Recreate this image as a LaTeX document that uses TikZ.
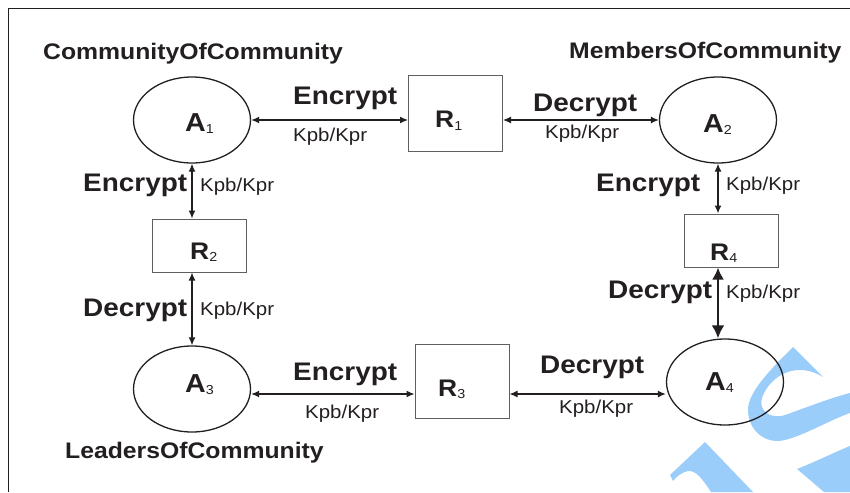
\documentclass[tikz,border=0pt]{standalone}
\usepackage{fontspec}
\setmainfont{Liberation Sans}[FakeStretch=1.1]
\usetikzlibrary{arrows.meta,shapes.geometric}

\definecolor{inkblack}{RGB}{35,31,32}
\definecolor{boxgray}{RGB}{95,95,95}
\definecolor{wmblue}{RGB}{155,205,250}

% subscripted names of the parties and relays
\newcommand{\agentname}[2]{{\fontsize{#1}{#1}\selectfont\bfseries #2}}
\newcommand{\subnum}[1]{\raisebox{-2pt}{\fontsize{13}{13}\selectfont #1}}

\tikzset{
  agent/.style={ellipse, draw=inkblack, line width=1.3pt, minimum width=117pt, minimum height=86pt, inner sep=0pt},
  relay/.style={rectangle, draw=boxgray, line width=1pt, minimum width=94pt, inner sep=0pt},
  keyarrow/.style={{Latex[length=8pt,width=7pt]}-{Latex[length=8pt,width=7pt]}, line width=1.3pt, draw=inkblack},
  heavyarrow/.style={{Latex[length=12pt,width=12pt]}-{Latex[length=13pt,width=13pt]}, line width=2.5pt, draw=inkblack},
  oplbl/.style={font=\fontsize{25.4}{26}\selectfont\bfseries, anchor=base west, inner sep=0pt, text=inkblack},
  keylbl/.style={font=\fontsize{18.6}{19}\selectfont, anchor=base west, inner sep=0pt, text=inkblack},
  grouplbl/.style={font=\fontsize{22.5}{23}\selectfont\bfseries, anchor=base west, inner sep=0pt, text=inkblack},
  namelbl/.style={anchor=base west, inner sep=0pt, text=inkblack}
}

\begin{document}
\begin{tikzpicture}[x=1pt,y=-1pt]
  \useasboundingbox (0,0) rectangle (850,492);

  % watermark strokes behind everything
  \fill[wmblue] (793,347) .. controls (770,370) and (748,392) .. (748,410)
    .. controls (748,430) and (765,445) .. (785,440)
    .. controls (805,435) and (830,420) .. (850,413) -- (850,393)
    .. controls (830,398) and (805,408) .. (785,415)
    .. controls (770,420) and (758,410) .. (762,398)
    .. controls (767,383) and (782,370) .. (800,370)
    .. controls (810,370) and (818,374) .. (823,377) -- cycle;
  \fill[wmblue] (670,475) -- (705,442) -- (753,492) -- (711,492)
    .. controls (702,478) and (695,470) .. (688,471)
    .. controls (682,472) and (676,477) .. (673,481) -- cycle;
  \fill[wmblue] (797,469) .. controls (815,462) and (835,452) .. (850,446)
    -- (850,492) -- (824,492) -- cycle;

  % frame
  \draw[inkblack, line width=1pt] (8,492) -- (8,9) -- (850,9);

  % parties
  \node[agent] (A1) at (192,120) {};
  \node[agent] (A2) at (718,120) {};
  \node[agent] (A3) at (192,389) {};
  \node[agent] (A4) at (725,382) {};

  % relays
  \node[relay, minimum height=75pt] (R1) at (455.5,113.5) {};
  \node[relay, minimum height=53pt] (R2) at (199,245.5) {};
  \node[relay, minimum height=74pt] (R3) at (462,381) {};
  \node[relay, minimum height=53pt] (R4) at (731,240.5) {};

  \node[namelbl] (A1lbl) at (185,131) {\agentname{26}{A}\subnum{1}};
  \node[namelbl] (A2lbl) at (703,132) {\agentname{26}{A}\subnum{2}};
  \node[namelbl] (A3lbl) at (185,392) {\agentname{26}{A}\subnum{3}};
  \node[namelbl] (A4lbl) at (705,390) {\agentname{26}{A}\subnum{4}};
  \node[namelbl] (R1lbl) at (435,128) {\agentname{24}{R}\subnum{1}};
  \node[namelbl] (R2lbl) at (190,259) {\agentname{24}{R}\subnum{2}};
  \node[namelbl] (R3lbl) at (438,396) {\agentname{24}{R}\subnum{3}};
  \node[namelbl] (R4lbl) at (710,260) {\agentname{24}{R}\subnum{4}};

  % group names
  \node[grouplbl] (grpcc) at (43,60) {CommunityOfCommunity};
  \node[grouplbl] (grpmc) at (569,59) {MembersOfCommunity};
  \node[grouplbl] (grplc) at (65,458) {LeadersOfCommunity};

  % key exchange links
  \draw[keyarrow] (A1.east) -- (A1.east -| R1.west);
  \draw[keyarrow] (R1.east |- A2.west) -- (A2.west);
  \draw[keyarrow] (A1.south) -- (A1.south |- R2.north);
  \draw[keyarrow] (R2.south -| A3.north) -- (A3.north);
  \draw[keyarrow] (A2.south) -- (A2.south |- R4.north);
  \draw[heavyarrow] (R4.south -| A2.south) -- (A2.south |- A4.north);
  \draw[keyarrow] ([yshift=-5pt]A3.east) -- ([yshift=-5pt]A3.east -| R3.west);
  \draw[keyarrow] ([yshift=-5pt]A3.east -| R3.east) -- ([yshift=-5pt]A3.east -| A4.west);

  % operation and key labels
  \node[oplbl] (op1) at (293,105) {Encrypt};
  \node[keylbl] (key1) at (293,141) {Kpb/Kpr};
  \node[oplbl] (op2) at (533,111) {Decrypt};
  \node[keylbl] (key2) at (545,138) {Kpb/Kpr};
  \node[oplbl] (op3) at (83,191) {Encrypt};
  \node[keylbl] (key3) at (200,191) {Kpb/Kpr};
  \node[oplbl] (op4) at (83,316) {Decrypt};
  \node[keylbl] (key4) at (200,315) {Kpb/Kpr};
  \node[oplbl] (op5) at (596,191) {Encrypt};
  \node[keylbl] (key5) at (726,190) {Kpb/Kpr};
  \node[oplbl] (op6) at (608,298) {Decrypt};
  \node[keylbl] (key6) at (726,298) {Kpb/Kpr};
  \node[oplbl] (op7) at (293,380) {Encrypt};
  \node[keylbl] (key7) at (305,418) {Kpb/Kpr};
  \node[oplbl] (op8) at (540,373) {Decrypt};
  \node[keylbl] (key8) at (559,413) {Kpb/Kpr};
\end{tikzpicture}
\end{document}
